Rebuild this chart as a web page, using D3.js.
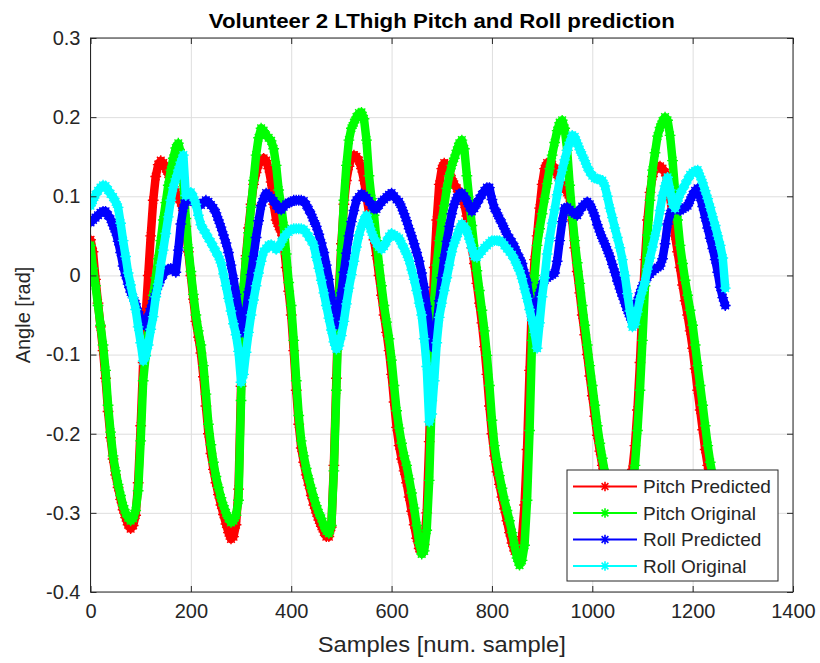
<!DOCTYPE html>
<html>
<head>
<meta charset="utf-8">
<script src="https://cdn.jsdelivr.net/npm/d3@7"></script>
<style>
body { margin: 0; background: #fff; }
svg { display: block; font-family: "Liberation Sans", Arial, sans-serif; }
</style>
</head>
<body>
<svg id="chart" width="820" height="663"></svg>
<script>
// axis ticks
var xTicks = [0, 200, 400, 600, 800, 1000, 1200, 1400];
var yTicks = [-0.4, -0.3, -0.2, -0.1, 0, 0.1, 0.2, 0.3];

// one value every 5 samples (sample 0 .. 1265)
var sampleStep = 5;

var pitchPredicted = [
  0.045, 0.030, -0.005, -0.035, -0.065, -0.095, -0.130, -0.172, -0.205, -0.232,
  -0.252, -0.268, -0.283, -0.296, -0.306, -0.315, -0.320, -0.316, -0.303, -0.262,
  -0.190, -0.110, -0.050, 0.000, 0.050, 0.095, 0.125, 0.140, 0.145, 0.142,
  0.135, 0.128, 0.120, 0.112, 0.105, 0.098, 0.092, 0.082, 0.062, 0.030,
  0.000, -0.030, -0.058, -0.078, -0.098, -0.128, -0.165, -0.200, -0.225, -0.245,
  -0.262, -0.277, -0.290, -0.302, -0.314, -0.325, -0.333, -0.330, -0.315, -0.270,
  -0.140, -0.020, 0.025, 0.060, 0.090, 0.115, 0.130, 0.140, 0.145, 0.148,
  0.145, 0.135, 0.118, 0.090, 0.070, 0.062, 0.055, 0.040, 0.010, -0.020,
  -0.050, -0.095, -0.145, -0.188, -0.218, -0.236, -0.252, -0.265, -0.278, -0.290,
  -0.300, -0.309, -0.317, -0.324, -0.330, -0.330, -0.318, -0.240, -0.130, -0.020,
  0.040, 0.090, 0.120, 0.138, 0.148, 0.152, 0.150, 0.145, 0.135, 0.120,
  0.100, 0.080, 0.062, 0.045, 0.025, 0.000, -0.025, -0.050, -0.072, -0.095,
  -0.125, -0.160, -0.192, -0.215, -0.232, -0.247, -0.262, -0.280, -0.298, -0.315,
  -0.332, -0.345, -0.350, -0.340, -0.300, -0.210, -0.080, 0.010, 0.070, 0.115,
  0.135, 0.142, 0.140, 0.132, 0.122, 0.115, 0.110, 0.105, 0.100, 0.090,
  0.075, 0.055, 0.035, 0.015, -0.010, -0.035, -0.060, -0.090, -0.125, -0.165,
  -0.200, -0.228, -0.248, -0.264, -0.280, -0.295, -0.310, -0.325, -0.338, -0.348,
  -0.352, -0.348, -0.330, -0.290, -0.220, -0.120, -0.030, 0.020, 0.050, 0.085,
  0.115, 0.135, 0.142, 0.143, 0.140, 0.135, 0.128, 0.120, 0.115, 0.110,
  0.105, 0.098, 0.070, 0.035, 0.005, -0.022, -0.050, -0.075, -0.100, -0.127,
  -0.152, -0.178, -0.202, -0.222, -0.240, -0.258, -0.273, -0.288, -0.302, -0.315,
  -0.325, -0.330, -0.325, -0.310, -0.290, -0.270, -0.245, -0.215, -0.170, -0.110,
  -0.040, 0.020, 0.070, 0.105, 0.125, 0.135, 0.138, 0.138, 0.135, 0.130,
  0.120, 0.100, 0.075, 0.050, 0.030, 0.010, -0.012, -0.032, -0.050, -0.070,
  -0.092, -0.118, -0.145, -0.170, -0.195, -0.220, -0.240, -0.258, -0.272, -0.285,
  -0.296, -0.305, -0.312, -0.318
];

var pitchOriginal = [
  0.038, 0.009, -0.013, -0.038, -0.063, -0.088, -0.120, -0.164, -0.198, -0.228,
  -0.247, -0.264, -0.278, -0.291, -0.300, -0.306, -0.310, -0.307, -0.297, -0.272,
  -0.209, -0.133, -0.101, -0.076, -0.051, -0.025, -0.003, 0.021, 0.044, 0.070,
  0.092, 0.114, 0.133, 0.148, 0.161, 0.167, 0.155, 0.118, 0.072, 0.035,
  0.005, -0.024, -0.050, -0.070, -0.088, -0.114, -0.150, -0.188, -0.214, -0.236,
  -0.254, -0.268, -0.281, -0.291, -0.300, -0.307, -0.312, -0.310, -0.303, -0.284,
  -0.158, -0.015, 0.021, 0.054, 0.086, 0.120, 0.152, 0.174, 0.186, 0.183,
  0.177, 0.174, 0.170, 0.160, 0.139, 0.108, 0.088, 0.063, 0.027, -0.009,
  -0.038, -0.082, -0.133, -0.177, -0.209, -0.228, -0.244, -0.257, -0.269, -0.281,
  -0.291, -0.300, -0.307, -0.316, -0.323, -0.326, -0.316, -0.247, -0.145, -0.032,
  0.032, 0.095, 0.139, 0.171, 0.186, 0.193, 0.200, 0.205, 0.206, 0.198,
  0.171, 0.126, 0.097, 0.076, 0.044, 0.013, -0.013, -0.038, -0.059, -0.080,
  -0.107, -0.139, -0.171, -0.193, -0.212, -0.228, -0.240, -0.257, -0.275, -0.294,
  -0.316, -0.338, -0.352, -0.348, -0.322, -0.259, -0.158, -0.032, 0.013, 0.044,
  0.070, 0.088, 0.110, 0.126, 0.139, 0.148, 0.158, 0.167, 0.171, 0.160,
  0.126, 0.095, 0.063, 0.034, 0.006, -0.019, -0.044, -0.070, -0.101, -0.139,
  -0.183, -0.215, -0.236, -0.253, -0.269, -0.284, -0.297, -0.310, -0.325, -0.341,
  -0.357, -0.366, -0.360, -0.341, -0.284, -0.196, -0.082, 0.000, 0.038, 0.059,
  0.078, 0.097, 0.116, 0.135, 0.152, 0.168, 0.183, 0.193, 0.196, 0.186,
  0.158, 0.114, 0.076, 0.044, 0.016, -0.010, -0.038, -0.063, -0.088, -0.114,
  -0.139, -0.164, -0.190, -0.212, -0.231, -0.249, -0.265, -0.280, -0.295, -0.308,
  -0.318, -0.325, -0.320, -0.305, -0.290, -0.275, -0.259, -0.240, -0.196, -0.145,
  -0.082, -0.013, 0.051, 0.095, 0.133, 0.155, 0.176, 0.187, 0.195, 0.200,
  0.196, 0.177, 0.145, 0.107, 0.070, 0.038, 0.015, -0.006, -0.025, -0.044,
  -0.063, -0.088, -0.114, -0.139, -0.164, -0.190, -0.215, -0.236, -0.253, -0.268,
  -0.282, -0.294, -0.304, -0.310
];

var rollPredicted = [
  0.067, 0.070, 0.073, 0.076, 0.079, 0.081, 0.081, 0.076, 0.071, 0.063,
  0.055, 0.043, 0.029, 0.012, 0.000, -0.011, -0.021, -0.028, -0.036, -0.046,
  -0.055, -0.062, -0.064, -0.053, -0.042, -0.032, -0.023, -0.013, -0.005, 0.001,
  0.006, 0.008, 0.009, 0.006, 0.004, 0.032, 0.065, 0.085, 0.095, 0.095,
  0.095, 0.093, 0.091, 0.089, 0.089, 0.092, 0.095, 0.093, 0.089, 0.085,
  0.079, 0.070, 0.061, 0.051, 0.041, 0.029, 0.013, -0.004, -0.024, -0.045,
  -0.072, -0.072, -0.047, -0.021, 0.001, 0.024, 0.048, 0.069, 0.088, 0.097,
  0.104, 0.101, 0.098, 0.094, 0.089, 0.084, 0.083, 0.087, 0.090, 0.092,
  0.093, 0.095, 0.095, 0.095, 0.095, 0.094, 0.089, 0.083, 0.077, 0.069,
  0.062, 0.052, 0.041, 0.029, 0.013, -0.005, -0.028, -0.054, -0.063, -0.043,
  -0.022, 0.004, 0.028, 0.050, 0.068, 0.082, 0.095, 0.099, 0.103, 0.101,
  0.098, 0.094, 0.089, 0.084, 0.084, 0.089, 0.093, 0.096, 0.099, 0.102,
  0.104, 0.100, 0.096, 0.093, 0.086, 0.078, 0.069, 0.059, 0.050, 0.040,
  0.029, 0.018, 0.003, -0.015, -0.039, -0.065, -0.090, -0.091, -0.064, -0.032,
  -0.003, 0.022, 0.043, 0.062, 0.078, 0.090, 0.098, 0.103, 0.104, 0.100,
  0.094, 0.087, 0.081, 0.085, 0.091, 0.097, 0.102, 0.107, 0.111, 0.111,
  0.096, 0.085, 0.079, 0.072, 0.066, 0.059, 0.052, 0.047, 0.042, 0.036,
  0.028, 0.022, 0.015, 0.003, -0.009, -0.030, -0.052, -0.057, -0.036, -0.022,
  -0.012, -0.006, -0.003, -0.001, 0.001, 0.003, 0.018, 0.044, 0.068, 0.085,
  0.086, 0.083, 0.080, 0.078, 0.076, 0.082, 0.087, 0.090, 0.093, 0.090,
  0.083, 0.075, 0.064, 0.055, 0.047, 0.040, 0.032, 0.024, 0.014, 0.004,
  -0.007, -0.017, -0.026, -0.035, -0.044, -0.052, -0.059, -0.046, -0.032, -0.022,
  -0.013, -0.008, -0.002, 0.002, 0.005, 0.008, 0.010, 0.012, 0.021, 0.040,
  0.065, 0.078, 0.084, 0.085, 0.084, 0.082, 0.084, 0.086, 0.088, 0.095,
  0.102, 0.107, 0.110, 0.099, 0.087, 0.073, 0.060, 0.047, 0.034, 0.020,
  0.004, -0.015, -0.028, -0.038
];

var rollOriginal = [
  0.088, 0.095, 0.102, 0.107, 0.111, 0.114, 0.113, 0.108, 0.103, 0.099,
  0.093, 0.086, 0.066, 0.044, 0.024, 0.003, -0.012, -0.028, -0.043, -0.065,
  -0.085, -0.108, -0.102, -0.088, -0.068, -0.052, -0.027, -0.011, 0.013, 0.032,
  0.053, 0.074, 0.095, 0.111, 0.122, 0.133, 0.143, 0.152, 0.101, 0.105,
  0.105, 0.099, 0.090, 0.076, 0.064, 0.058, 0.053, 0.047, 0.042, 0.036,
  0.030, 0.024, 0.016, 0.002, -0.013, -0.029, -0.045, -0.061, -0.075, -0.096,
  -0.135, -0.125, -0.097, -0.072, -0.050, -0.031, -0.013, 0.003, 0.018, 0.030,
  0.034, 0.038, 0.039, 0.036, 0.033, 0.036, 0.042, 0.048, 0.052, 0.055,
  0.058, 0.059, 0.059, 0.059, 0.059, 0.058, 0.054, 0.049, 0.044, 0.038,
  0.023, 0.009, -0.006, -0.022, -0.038, -0.054, -0.069, -0.084, -0.093, -0.089,
  -0.076, -0.058, -0.036, -0.016, 0.001, 0.018, 0.036, 0.051, 0.062, 0.070,
  0.076, 0.065, 0.055, 0.047, 0.041, 0.036, 0.033, 0.037, 0.043, 0.049,
  0.053, 0.051, 0.049, 0.047, 0.040, 0.034, 0.027, 0.019, 0.007, -0.005,
  -0.019, -0.035, -0.050, -0.080, -0.115, -0.185, -0.175, -0.133, -0.085, -0.053,
  -0.035, -0.019, -0.003, 0.013, 0.030, 0.041, 0.049, 0.058, 0.065, 0.062,
  0.056, 0.046, 0.035, 0.024, 0.023, 0.027, 0.031, 0.035, 0.038, 0.041,
  0.044, 0.044, 0.044, 0.044, 0.042, 0.038, 0.034, 0.030, 0.026, 0.020,
  0.013, 0.006, -0.004, -0.017, -0.029, -0.043, -0.057, -0.072, -0.092, -0.060,
  -0.027, -0.003, 0.027, 0.047, 0.066, 0.083, 0.102, 0.120, 0.133, 0.146,
  0.158, 0.168, 0.177, 0.175, 0.167, 0.159, 0.152, 0.145, 0.137, 0.131,
  0.126, 0.123, 0.122, 0.121, 0.120, 0.113, 0.100, 0.085, 0.073, 0.060,
  0.048, 0.035, 0.020, 0.000, -0.023, -0.045, -0.065, -0.062, -0.046, -0.030,
  -0.019, -0.008, 0.008, 0.022, 0.036, 0.050, 0.063, 0.082, 0.101, 0.113,
  0.124, 0.108, 0.090, 0.085, 0.094, 0.103, 0.109, 0.115, 0.121, 0.127,
  0.130, 0.132, 0.133, 0.125, 0.117, 0.107, 0.097, 0.086, 0.074, 0.063,
  0.050, 0.038, 0.022, -0.016
];

var seriesNames = ["Pitch Predicted", "Pitch Original", "Roll Predicted", "Roll Original"];
var seriesColors = ["#ff0000", "#00ff00", "#0000ff", "#00ffff"];
var seriesValues = [pitchPredicted, pitchOriginal, rollPredicted, rollOriginal];

var margin = {top: 38, right: 27, bottom: 71, left: 90.5},
    width = 820 - margin.left - margin.right,
    height = 663 - margin.top - margin.bottom;

var axisColor = "#262626";

var svg = d3.select("#chart");

var x = d3.scaleLinear().domain([0, 1400]).range([0, width]);
var y = d3.scaleLinear().domain([-0.4, 0.3]).range([height, 0]);

var g = svg.append("g")
    .attr("transform", "translate(" + margin.left + "," + margin.top + ")");

// grid
g.append("g")
    .attr("class", "grid")
    .attr("transform", "translate(0," + height + ")")
    .call(d3.axisBottom(x).tickValues(xTicks).tickSize(-height).tickFormat(""))
    .call(function (s) { s.select(".domain").remove(); })
    .selectAll("line").attr("stroke", "#dedede");
g.append("g")
    .attr("class", "grid")
    .call(d3.axisLeft(y).tickValues(yTicks).tickSize(-width).tickFormat(""))
    .call(function (s) { s.select(".domain").remove(); })
    .selectAll("line").attr("stroke", "#dedede");

g.append("clipPath").attr("id", "plot-clip")
    .append("rect").attr("width", width).attr("height", height);

function starPath(r) {
    var d = r * 0.7071;
    return "M" + (-r) + ",0H" + r + "M0," + (-r) + "V" + r +
        "M" + (-d) + "," + (-d) + "L" + d + "," + d +
        "M" + (-d) + "," + d + "L" + d + "," + (-d);
}
var star = starPath(5.4);

var line = d3.line()
    .x(function (v, i) { return x(i * sampleStep); })
    .y(function (v) { return y(v); });

var plot = g.append("g").attr("clip-path", "url(#plot-clip)");

seriesValues.forEach(function (vals, k) {
    var sg = plot.append("g").attr("class", "series");
    sg.append("path")
        .datum(vals)
        .attr("d", line)
        .attr("fill", "none")
        .attr("stroke", seriesColors[k])
        .attr("stroke-width", 8.5)
        .attr("stroke-linejoin", "round")
        .attr("stroke-linecap", "round");
    sg.selectAll(".mk")
        .data(vals)
        .enter().append("path")
        .attr("class", "mk")
        .attr("d", star)
        .attr("transform", function (v, i) { return "translate(" + x(i * sampleStep) + "," + y(v) + ")"; })
        .attr("fill", "none")
        .attr("stroke", seriesColors[k])
        .attr("stroke-width", 1.4);
});

// axes with inward ticks on all four sides
function styleAxis(s) {
    s.select(".domain").remove();
    s.selectAll("line").attr("stroke", axisColor);
    s.selectAll("text").attr("fill", axisColor).attr("font-size", 20)
        .attr("font-family", "Liberation Sans, Arial, sans-serif");
}
var fmt = function (v) { return String(+v.toFixed(1)); };

g.append("g")
    .attr("transform", "translate(0," + height + ")")
    .call(d3.axisBottom(x).tickValues(xTicks).tickSizeInner(-6).tickSizeOuter(0).tickPadding(12).tickFormat(fmt))
    .call(styleAxis);
g.append("g")
    .call(d3.axisTop(x).tickValues(xTicks).tickSizeInner(-6).tickSizeOuter(0).tickFormat(""))
    .call(styleAxis);
g.append("g")
    .call(d3.axisLeft(y).tickValues(yTicks).tickSizeInner(-6).tickSizeOuter(0).tickPadding(10).tickFormat(fmt))
    .call(styleAxis);
g.append("g")
    .attr("transform", "translate(" + width + ",0)")
    .call(d3.axisRight(y).tickValues(yTicks).tickSizeInner(-6).tickSizeOuter(0).tickFormat(""))
    .call(styleAxis);

g.append("rect")
    .attr("width", width).attr("height", height)
    .attr("fill", "none").attr("stroke", axisColor).attr("stroke-width", 1);

// labels
svg.append("text")
    .attr("x", margin.left + width / 2).attr("y", 28)
    .attr("text-anchor", "middle")
    .attr("font-size", 21).attr("font-weight", "bold").attr("fill", "#000")
    .attr("textLength", 466).attr("lengthAdjust", "spacingAndGlyphs")
    .text("Volunteer 2 LThigh Pitch and Roll prediction");

svg.append("text")
    .attr("x", margin.left + width / 2).attr("y", 652)
    .attr("text-anchor", "middle")
    .attr("font-size", 22).attr("fill", axisColor)
    .attr("textLength", 248).attr("lengthAdjust", "spacingAndGlyphs")
    .text("Samples [num. sample]");

svg.append("text")
    .attr("transform", "translate(30," + (margin.top + height / 2) + ") rotate(-90)")
    .attr("text-anchor", "middle")
    .attr("font-size", 20).attr("fill", axisColor)
    .text("Angle [rad]");

// legend
var legend = svg.append("g").attr("transform", "translate(567,470)");
legend.append("rect")
    .attr("width", 211).attr("height", 111)
    .attr("fill", "#fff").attr("stroke", axisColor).attr("stroke-width", 1);

var item = legend.selectAll(".item")
    .data(seriesNames)
    .enter().append("g")
    .attr("class", "item")
    .attr("transform", function (n, i) { return "translate(0," + (16.5 + i * 26.5) + ")"; });
item.append("line")
    .attr("x1", 6).attr("x2", 70)
    .attr("stroke", function (n, i) { return seriesColors[i]; })
    .attr("stroke-width", 2);
item.append("path")
    .attr("d", starPath(4.8))
    .attr("transform", "translate(38,0)")
    .attr("fill", "none")
    .attr("stroke", function (n, i) { return seriesColors[i]; })
    .attr("stroke-width", 1.6);
item.append("text")
    .attr("x", 76).attr("dy", "0.35em")
    .attr("font-size", 19).attr("fill", axisColor)
    .text(function (n) { return n; });
</script>
</body>
</html>
